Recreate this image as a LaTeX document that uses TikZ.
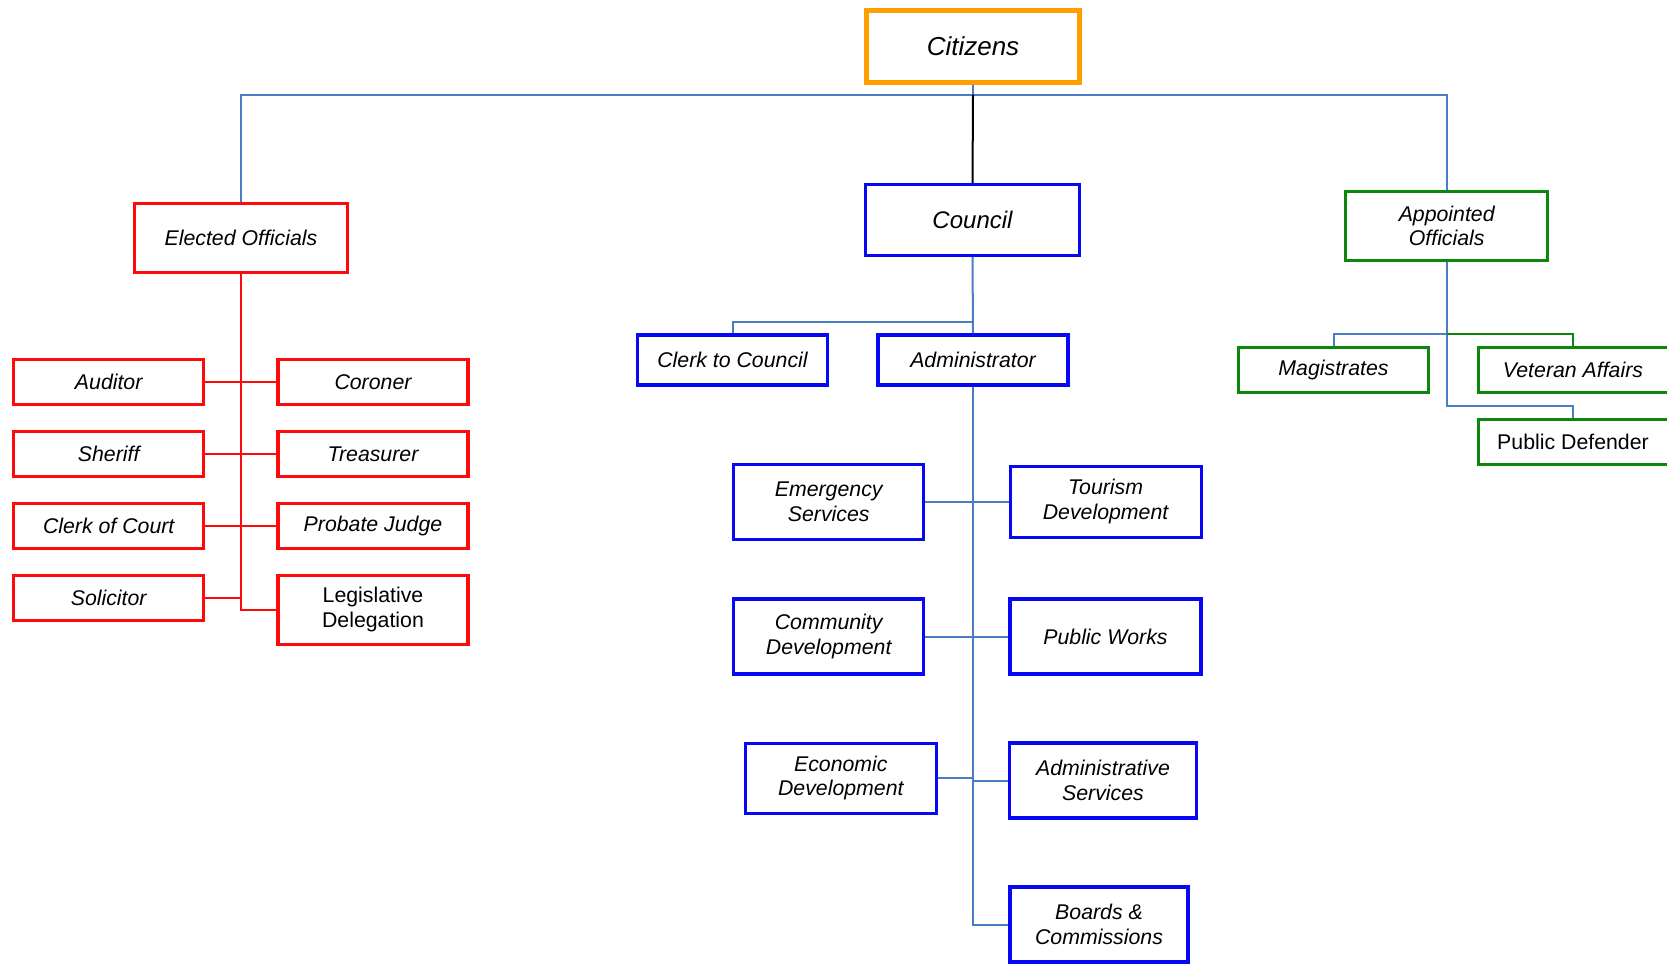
\documentclass[tikz,border=0pt]{standalone}
\usepackage{fontspec}
\setmainfont{Liberation Sans}
\definecolor{conn}{RGB}{74,126,196}
\definecolor{bblue}{RGB}{8,8,245}
\definecolor{rred}{RGB}{255,10,10}
\definecolor{ggreen}{RGB}{12,135,12}
\definecolor{oorange}{RGB}{255,158,0}
\begin{document}
\begin{tikzpicture}[x=1pt,y=-1pt,
  box/.style={draw, line width=3pt, inner sep=0pt, align=center,
    font=\fontsize{21.3}{24.5}\selectfont\itshape},
  upr/.style={font=\fontsize{21.3}{24.5}\selectfont},
  bbox/.style={box, draw=bblue, line width=3.2pt},
  rbox/.style={box, draw=rred, line width=3.2pt},
  gbox/.style={box, draw=ggreen, line width=3pt},
  sz/.style 2 args={minimum width=#1, minimum height=#2},
  cline/.style={draw=conn, line width=2pt},
  rline/.style={draw=rred, line width=2pt},
  gline/.style={draw=ggreen, line width=2pt},
  kline/.style={draw=black, line width=2pt}
]
\useasboundingbox (0,0) rectangle (1667,964);

% top
\node[box, draw=oorange, line width=5pt, sz={213}{72}, font=\fontsize{26}{30}\selectfont\itshape] (cit) at (973,46) {Citizens};
\node[bbox, sz={214}{71}, font=\fontsize{24}{28}\selectfont\itshape] (council) at (972.5,220) {Council};
\node[rbox, sz={213}{69}] (eo) at (241,238) {Elected Officials};
\node[gbox, sz={202}{69}] (ao) at (1446.7,226) {Appointed\\Officials};

% council children
\node[bbox, sz={190}{50}] (clerk) at (732.5,360) {Clerk to Council};
\node[bbox, sz={190}{50}] (admin) at (973,360) {Administrator};

% appointed children
\node[gbox, sz={190}{45}] (mag) at (1333.5,370) {Magistrates};
\node[gbox, sz={190}{45}] (vet) at (1573,370) {Veteran Affairs};
\node[gbox, upr, sz={190}{45}] (pd) at (1573,441.7) {Public Defender};

% elected children
\node[rbox, sz={190}{45}] (aud) at (108.7,382) {Auditor};
\node[rbox, sz={190}{45}] (cor) at (373,382) {Coroner};
\node[rbox, sz={190}{45}] (she) at (108.7,454) {Sheriff};
\node[rbox, sz={190}{45}] (tre) at (373,454) {Treasurer};
\node[rbox, sz={190}{45}] (coc) at (108.7,526) {Clerk of Court};
\node[rbox, sz={190}{45}] (pro) at (373,526) {Probate Judge};
\node[rbox, sz={190}{45}] (sol) at (108.7,598) {Solicitor};
\node[rbox, upr, sz={190}{69}] (leg) at (373,609.6) {Legislative\\Delegation};

% administrator children
\node[bbox, sz={190}{75}] (emer) at (828.7,501.7) {Emergency\\Services};
\node[bbox, sz={191}{71}] (tour) at (1105.6,501.7) {Tourism\\Development};
\node[bbox, sz={190}{75}] (comm) at (828.7,636.5) {Community\\Development};
\node[bbox, sz={191}{75}] (pw) at (1105.5,636.5) {Public Works};
\node[bbox, sz={191}{70}] (econ) at (840.8,778.2) {Economic\\Development};
\node[bbox, sz={187}{75}] (as) at (1103,780.5) {Administrative\\Services};
\node[bbox, sz={178}{75}] (boards) at (1099,924.5) {Boards \&\\Commissions};

% coordinates for bus lines
\coordinate (hub) at (973,94.6);
\coordinate (cbus) at (973,321.7);
\coordinate (abus) at (1446.7,334);
\coordinate (pdk) at (1573,405.7);

% top connectors
\draw[cline] (cit.south) -- (hub);
\draw[cline] (eo.north) -- (eo.north |- hub) -- (ao.north |- hub) -- (ao.north);
\draw[kline] (hub) -- (council.north);

% council
\draw[cline] (council.south) -- (admin.north);
\draw[cline] (cbus) -| (clerk.north);

% elected
\draw[rline] (eo.south) |- (leg.west);
\draw[rline] (aud.east) -- (cor.west);
\draw[rline] (she.east) -- (tre.west);
\draw[rline] (coc.east) -- (pro.west);
\draw[rline] (sol.east) -- (sol.east -| eo.south);

% appointed
\draw[cline] (ao.south) |- (pdk) -- (pd.north);
\draw[cline] (abus) -| (mag.north);
\draw[gline] (abus) -| (vet.north);

% administrator
\draw[cline] (admin.south) |- (boards.west);
\draw[cline] (emer.east) -- (tour.west);
\draw[cline] (comm.east) -- (pw.west);
\draw[cline] (econ.east) -- (econ.east -| admin.south);
\draw[cline] (admin.south |- as.west) -- (as.west);
\end{tikzpicture}
\end{document}
